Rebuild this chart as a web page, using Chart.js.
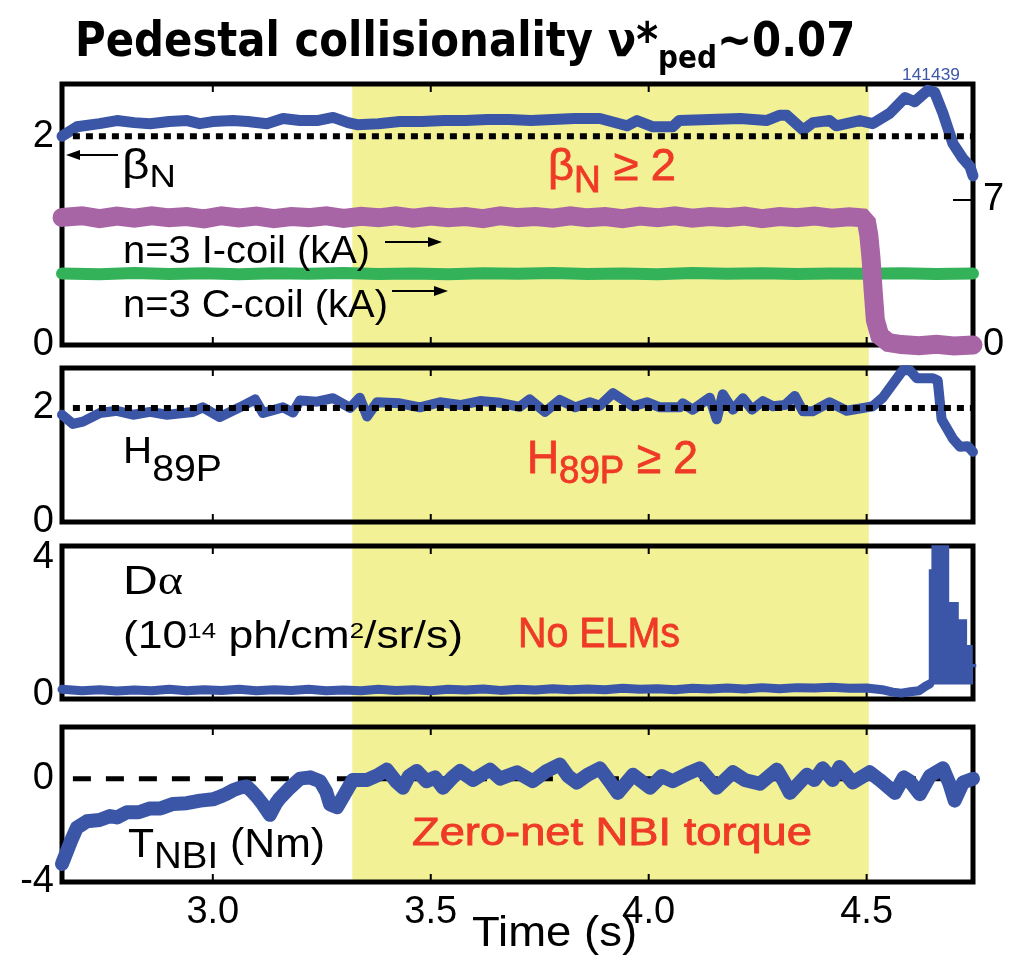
<!DOCTYPE html>
<html>
<head>
<meta charset="utf-8">
<script src="https://cdn.jsdelivr.net/npm/chart.js@4.4.1/dist/chart.umd.min.js"></script>
<style>
  body { margin:0; width:1017px; height:960px; overflow:hidden; background:#fff; position:relative;
         font-family:"Liberation Sans", Arial, sans-serif; }
  .pn { position:absolute; left:0; width:1017px; }
  .lb { position:absolute; white-space:nowrap; line-height:1; color:#000; transform-origin:left center; }
  .red { color:#ee3a26; -webkit-text-stroke:0.8px #ee3a26; }
  .sb { position:relative; }
</style>
</head>
<body>
<div class="pn" style="top:60px;height:300px"><canvas id="c1"></canvas></div>
<div class="pn" style="top:360px;height:176px"><canvas id="c2"></canvas></div>
<div class="pn" style="top:536px;height:177px"><canvas id="c3"></canvas></div>
<div class="pn" style="top:713px;height:247px"><canvas id="c4"></canvas></div>

<svg style="position:absolute;left:0;top:0" width="1017" height="960">
  <line x1="118" y1="155" x2="76" y2="155" stroke="#000" stroke-width="2"/>
  <polygon points="66,155 80,150 80,160" fill="#000"/>
  <line x1="385" y1="242" x2="432" y2="242" stroke="#000" stroke-width="2"/>
  <polygon points="442,242 428,237 428,247" fill="#000"/>
  <line x1="392" y1="291" x2="438" y2="291" stroke="#000" stroke-width="2"/>
  <polygon points="448,291 434,286 434,296" fill="#000"/>
</svg>

<div class="lb" data-w="780" style="left:75px;top:15px;font-size:48px;font-family:'DejaVu Sans';font-weight:bold">Pedestal collisionality &nu;*<span class="sb" style="font-size:32px;top:12px">ped</span>~0.07</div>
<div class="lb" data-w="58" style="left:902px;top:67px;font-size:16px;color:#3d57a8">141439</div>

<div class="lb" data-w="54" style="left:122px;top:144px;font-size:42px">&beta;<span class="sb" style="font-size:32px;top:8px">N</span></div>
<div class="lb red" data-w="128" style="left:548px;top:143px;font-size:44px">&beta;<span class="sb" style="font-size:36px;top:12px">N</span> &ge; 2</div>
<div class="lb" data-w="247" style="left:123px;top:231px;font-size:38px">n=3 I-coil (kA)</div>
<div class="lb" data-w="265" style="left:123px;top:285px;font-size:38px">n=3 C-coil (kA)</div>

<div class="lb" data-w="99" style="left:123px;top:432px;font-size:37px">H<span class="sb" style="font-size:36px;top:18px">89P</span></div>
<div class="lb red" data-w="171" style="left:527px;top:434px;font-size:46px">H<span class="sb" style="font-size:38px;top:10px">89P</span> &ge; 2</div>

<div class="lb" data-w="60" style="left:123px;top:560px;font-size:40px">D<span style="font-family:'Liberation Serif'">&alpha;</span></div>
<div class="lb" data-w="340" style="left:123px;top:616px;font-size:38px">(10<span class="sb" style="font-size:22px;top:-10px">14</span> ph/cm<span class="sb" style="font-size:22px;top:-10px">2</span>/sr/s)</div>
<div class="lb red" data-w="162" style="left:518px;top:612px;font-size:42px">No ELMs</div>

<div class="lb" data-w="197" style="left:128px;top:823px;font-size:40px">T<span class="sb" style="font-size:36px;top:11px">NBI</span> (Nm)</div>
<div class="lb red" data-w="400" style="left:412px;top:813px;font-size:38px">Zero-net NBI torque</div>
<div class="lb" data-w="165" style="left:472px;top:911px;font-size:42px">Time (s)</div>

<script>
// ── data ──────────────────────────────────────────────────────────
const X_MIN = 2.654, X_MAX = 4.744;
const BAND = [3.32, 4.505];
const TIME_TICKS = [3.0, 3.5, 4.0, 4.5];

// beta_N (left axis, panel 1)
const bnT = [2.654, 2.688, 2.74, 2.78, 2.82, 2.856, 2.90, 2.941, 2.97, 3.00, 3.046, 3.08, 3.124, 3.161, 3.20, 3.239, 3.276, 3.31, 3.331, 3.38,
  3.429, 3.48, 3.53, 3.58, 3.63, 3.68, 3.73, 3.78, 3.83, 3.888, 3.95, 3.973, 4.01, 4.055, 4.07, 4.14, 4.21, 4.27, 4.30, 4.317,
  4.354, 4.377, 4.415, 4.43, 4.484, 4.514, 4.553, 4.588, 4.61, 4.64, 4.656, 4.675, 4.698, 4.72, 4.737, 4.744];
const bnV = [2.00, 2.09, 2.12, 2.15, 2.13, 2.12, 2.14, 2.15, 2.12, 2.14, 2.15, 2.14, 2.12, 2.17, 2.15, 2.15, 2.18, 2.13, 2.11, 2.12,
  2.14, 2.14, 2.15, 2.15, 2.16, 2.16, 2.15, 2.16, 2.17, 2.17, 2.10, 2.15, 2.09, 2.09, 2.15, 2.16, 2.17, 2.15, 2.20, 2.20,
  2.06, 2.13, 2.15, 2.10, 2.15, 2.12, 2.22, 2.37, 2.33, 2.44, 2.42, 2.22, 1.93, 1.79, 1.71, 1.62];

// n=3 I-coil (kA, right axis)
const icT = [2.654, 2.70, 2.74, 2.78, 2.82, 2.86, 2.90, 2.94, 2.98, 3.02, 3.06, 3.10, 3.14, 3.18, 3.22, 3.26, 3.30, 3.34, 3.38, 3.42,
  3.46, 3.50, 3.54, 3.58, 3.62, 3.66, 3.70, 3.74, 3.78, 3.82, 3.86, 3.90, 3.94, 3.98, 4.02, 4.06, 4.10, 4.14, 4.18, 4.22,
  4.26, 4.30, 4.34, 4.38, 4.42, 4.46, 4.49, 4.50, 4.505, 4.51, 4.515, 4.52, 4.53, 4.55, 4.58, 4.62, 4.66, 4.70, 4.744];
const icV = [6.16, 6.24, 6.10, 6.22, 6.12, 6.24, 6.14, 6.20, 6.09, 6.24, 6.13, 6.22, 6.10, 6.20, 6.15, 6.24, 6.11, 6.21, 6.14, 6.24,
  6.12, 6.22, 6.14, 6.20, 6.10, 6.24, 6.15, 6.20, 6.12, 6.24, 6.14, 6.20, 6.10, 6.22, 6.14, 6.24, 6.12, 6.20, 6.15, 6.22,
  6.10, 6.20, 6.14, 6.23, 6.12, 6.19, 6.14, 5.90, 5.30, 4.20, 2.60, 1.20, 0.45, 0.12, 0.02, -0.04, 0.03, -0.05, 0.00];

// n=3 C-coil (kA, right axis)
const ccT = [2.654, 2.74, 2.82, 2.90, 2.98, 3.06, 3.14, 3.22, 3.30, 3.38, 3.46, 3.54, 3.62, 3.70, 3.78, 3.86, 3.94, 4.02, 4.10, 4.18,
  4.26, 4.34, 4.42, 4.50, 4.58, 4.66, 4.744];
const ccV = [3.45, 3.42, 3.47, 3.43, 3.46, 3.42, 3.46, 3.44, 3.47, 3.43, 3.45, 3.42, 3.46, 3.44, 3.47, 3.43, 3.45, 3.42, 3.47, 3.44,
  3.46, 3.43, 3.45, 3.44, 3.46, 3.43, 3.45];

// H89P
const hT = [2.654, 2.679, 2.702, 2.741, 2.780, 2.817, 2.856, 2.895, 2.954, 2.977, 3.016, 3.062, 3.097, 3.115, 3.161, 3.184, 3.200, 3.239, 3.276, 3.315,
  3.337, 3.354, 3.377, 3.429, 3.475, 3.521, 3.567, 3.613, 3.659, 3.704, 3.727, 3.762, 3.796, 3.831, 3.865, 3.888, 3.918, 3.964, 3.996, 4.026,
  4.071, 4.078, 4.101, 4.140, 4.156, 4.170, 4.193, 4.216, 4.237, 4.262, 4.285, 4.312, 4.335, 4.354, 4.376, 4.415, 4.454, 4.500, 4.514, 4.537,
  4.583, 4.599, 4.615, 4.652, 4.663, 4.672, 4.698, 4.714, 4.732, 4.744];
const hV = [1.88, 1.72, 1.76, 1.91, 1.95, 1.88, 1.93, 1.88, 1.93, 2.01, 1.84, 2.01, 2.15, 1.91, 2.01, 1.92, 2.13, 2.11, 2.17, 2.00,
  2.18, 1.85, 2.10, 2.08, 2.01, 2.10, 2.05, 2.12, 2.09, 2.02, 2.15, 1.93, 2.14, 2.01, 2.10, 2.04, 2.26, 2.03, 2.10, 2.01,
  2.01, 2.08, 1.97, 2.18, 1.80, 2.24, 1.97, 2.17, 1.97, 2.12, 2.03, 2.05, 2.21, 1.94, 1.94, 2.10, 1.95, 2.01, 2.03, 2.18,
  2.66, 2.66, 2.52, 2.52, 2.48, 1.80, 1.46, 1.32, 1.33, 1.23];

// D-alpha baseline and ELM envelope
const daT = [2.654, 2.70, 2.74, 2.78, 2.82, 2.86, 2.90, 2.94, 2.98, 3.02, 3.06, 3.10, 3.14, 3.18, 3.22, 3.26, 3.30, 3.34, 3.38, 3.42,
  3.46, 3.50, 3.54, 3.58, 3.62, 3.66, 3.70, 3.74, 3.78, 3.82, 3.86, 3.90, 3.94, 3.98, 4.02, 4.06, 4.10, 4.14, 4.18, 4.22,
  4.26, 4.30, 4.34, 4.38, 4.42, 4.46, 4.50, 4.54, 4.56, 4.58, 4.60, 4.62, 4.635, 4.645];
const daV = [0.16, 0.12, 0.15, 0.11, 0.14, 0.12, 0.16, 0.12, 0.15, 0.13, 0.16, 0.12, 0.15, 0.13, 0.16, 0.12, 0.14, 0.12, 0.16, 0.13,
  0.15, 0.12, 0.16, 0.14, 0.17, 0.13, 0.16, 0.14, 0.18, 0.15, 0.17, 0.15, 0.19, 0.16, 0.18, 0.15, 0.19, 0.17, 0.20, 0.17,
  0.21, 0.18, 0.21, 0.20, 0.22, 0.19, 0.20, 0.14, 0.08, 0.05, 0.09, 0.12, 0.25, 0.32];
const elmT = [4.64, 4.646, 4.652, 4.686, 4.708, 4.727, 4.74, 4.748];
const elmV = [0.30, 3.60, 4.30, 2.65, 2.15, 1.40, 0.85, 0.80];

// T_NBI (Nm)
const tqT = [2.654, 2.661, 2.675, 2.688, 2.711, 2.74, 2.764, 2.78, 2.803, 2.83, 2.856, 2.88, 2.909, 2.94, 2.971, 3.00, 3.016, 3.03, 3.046, 3.062,
  3.078, 3.09, 3.101, 3.115, 3.131, 3.145, 3.154, 3.177, 3.20, 3.223, 3.246, 3.26, 3.269, 3.285, 3.299, 3.321, 3.354, 3.38, 3.399, 3.42,
  3.436, 3.45, 3.468, 3.49, 3.51, 3.528, 3.55, 3.567, 3.597, 3.636, 3.659, 3.698, 3.734, 3.766, 3.796, 3.815, 3.835, 3.86, 3.888, 3.91,
  3.929, 3.964, 4.003, 4.03, 4.055, 4.09, 4.117, 4.14, 4.156, 4.193, 4.22, 4.255, 4.294, 4.31, 4.324, 4.363, 4.38, 4.399, 4.422, 4.438,
  4.468, 4.507, 4.53, 4.565, 4.585, 4.599, 4.622, 4.645, 4.675, 4.69, 4.702, 4.721, 4.744];
const tqV = [-3.3, -3.0, -2.4, -1.9, -1.65, -1.6, -1.45, -1.5, -1.3, -1.3, -1.15, -1.15, -0.98, -0.95, -0.85, -0.8, -0.7, -0.6, -0.45, -0.35,
  -0.3, -0.5, -0.7, -1.0, -1.4, -0.95, -0.75, -0.35, 0.0, 0.05, -0.1, -0.5, -1.0, -1.1, -0.7, -0.05, -0.05, 0.15, 0.35, -0.1,
  -0.35, 0.1, 0.3, -0.1, 0.05, -0.35, 0.05, 0.3, -0.05, 0.35, 0.0, 0.25, -0.1, 0.3, 0.55, 0.1, -0.15, 0.15, 0.4, -0.1,
  -0.55, 0.15, -0.35, 0.1, -0.1, 0.2, 0.4, -0.05, -0.35, 0.25, -0.05, -0.2, 0.35, -0.1, -0.55, 0.15, -0.05, 0.4, -0.05, 0.45,
  -0.15, 0.25, -0.05, -0.55, 0.05, -0.1, -0.6, 0.1, 0.4, -0.2, -0.85, -0.15, 0.0];

// ── helpers ───────────────────────────────────────────────────────
const BLUE = "#3b56a6", PURPLE = "#a865a6", GREEN = "#33b25a", YELLOW = "#f3f196";
const FONT = "'Liberation Sans', Arial, sans-serif";

function pts(ts, vs) { return ts.slice(0, Math.min(ts.length, vs.length)).map((t, i) => ({ x: t, y: vs[i] })); }
function line(data, color, width, extra) {
  return Object.assign({ data, borderColor: color, backgroundColor: color, borderWidth: width, pointRadius: 0,
    fill: false, tension: 0, clip: 14, borderJoinStyle: "round", borderCapStyle: "round" }, extra || {});
}
function refLine(v, dash, width, axis) {
  return line([{ x: X_MIN + 0.025, y: v }, { x: X_MAX, y: v }], "#000", width,
    { borderDash: dash, borderCapStyle: "butt", yAxisID: axis || "y", clip: 0 });
}

function bandPlugin(first, last) {
  return {
    id: "band",
    beforeDraw(chart) {
      const { ctx, chartArea: a, scales: { x } } = chart;
      const x1 = x.getPixelForValue(BAND[0]), x2 = x.getPixelForValue(BAND[1]);
      const y1 = first ? a.top : 0, y2 = last ? a.bottom : chart.height;
      ctx.save(); ctx.fillStyle = YELLOW; ctx.fillRect(x1, y1, x2 - x1, y2 - y1); ctx.restore();
    }
  };
}
const framePlugin = {
  id: "frame",
  beforeDatasetsDraw(chart) {
    const { ctx, chartArea: a, scales } = chart;
    ctx.save();
    ctx.strokeStyle = "#000"; ctx.lineWidth = 2;
    TIME_TICKS.forEach(t => {
      const px = scales.x.getPixelForValue(t);
      ctx.beginPath();
      ctx.moveTo(px, a.top); ctx.lineTo(px, a.top + 8);
      ctx.moveTo(px, a.bottom); ctx.lineTo(px, a.bottom - 8);
      ctx.stroke();
    });
    if (scales.y2) {
      const py = scales.y2.getPixelForValue(7);
      ctx.beginPath(); ctx.moveTo(a.right - 20, py); ctx.lineTo(a.right, py); ctx.stroke();
    }
    ctx.lineWidth = 5;
    ctx.strokeRect(a.left, a.top, a.right - a.left, a.bottom - a.top);
    ctx.restore();
  }
};

function yAxis(min, max, ticks, pos, width, pad) {
  return {
    type: "linear", position: pos || "left", min, max,
    grid: { display: false, drawTicks: false }, border: { display: false },
    afterBuildTicks: s => { s.ticks = ticks.map(v => ({ value: v })); },
    afterFit: s => { s.width = width || 62; s.paddingTop = 0; s.paddingBottom = 0; },
    ticks: { font: { family: FONT, size: 38 }, color: "#000", padding: pad || 8, autoSkip: false, callback: v => String(v) }
  };
}
function xAxis(show) {
  return {
    type: "linear", min: X_MIN, max: X_MAX, display: show,
    grid: { display: false, drawTicks: false }, border: { display: false },
    afterBuildTicks: s => { s.ticks = TIME_TICKS.map(v => ({ value: v })); },
    afterFit: s => { s.height = show ? 78 : 0; s.paddingLeft = 0; s.paddingRight = 0; },
    ticks: { font: { family: FONT, size: 38 }, color: "#000", padding: 8, autoSkip: false, maxRotation: 0,
      callback: v => Number(v).toFixed(1) }
  };
}
function makePanel(id, pad, scales, datasets, first, last) {
  return new Chart(document.getElementById(id), {
    type: "line",
    data: { datasets },
    options: {
      animation: false, responsive: true, maintainAspectRatio: false, events: [],
      layout: { padding: pad },
      plugins: { legend: { display: false }, tooltip: { enabled: false } },
      scales
    },
    plugins: [bandPlugin(first, last), framePlugin]
  });
}

// ── panel 1: beta_N + coils ───────────────────────────────────────
makePanel("c1", { top: 24, bottom: 15, left: 0, right: 0 },
  { x: xAxis(false), y: yAxis(0, 2.5, [0, 2]), y2: yAxis(0, 12.6, [0, 7], "right", 44, 10) },
  [
    line(pts(icT, icV), PURPLE, 19, { yAxisID: "y2", borderJoinStyle: "miter" }),
    line(pts(ccT, ccV), GREEN, 12, { yAxisID: "y2" }),
    refLine(2, [7, 6], 6),
    line(pts(bnT, bnV), BLUE, 11)
  ], true, false);

// ── panel 2: H89P ─────────────────────────────────────────────────
makePanel("c2", { top: 8, bottom: 14, left: 0, right: 44 },
  { x: xAxis(false), y: yAxis(0, 2.7, [0, 2]) },
  [
    refLine(2, [7, 6], 6),
    line(pts(hT, hV), BLUE, 10)
  ], false, false);

// ── panel 3: D-alpha ──────────────────────────────────────────────
makePanel("c3", { top: 10, bottom: 14, left: 0, right: 44 },
  { x: xAxis(false), y: yAxis(-0.12, 4.32, [0, 4]) },
  [
    line(pts(daT, daV), BLUE, 9),
    line(pts(elmT, elmV), BLUE, 3, { stepped: "before", fill: { value: 0.3 }, borderJoinStyle: "miter", borderCapStyle: "butt" })
  ], false, false);

// ── panel 4: T_NBI ────────────────────────────────────────────────
makePanel("c4", { top: 14, bottom: 0, left: 0, right: 44 },
  { x: xAxis(true), y: yAxis(-4, 2, [-4, 0]) },
  [
    line(pts(tqT, tqV), BLUE, 14),
    refLine(0, [18, 15], 5)
  ], false, true);

// ── fit overlay labels to their measured widths ────────────────────
document.querySelectorAll(".lb[data-w]").forEach(el => {
  const w = el.getBoundingClientRect().width;
  el.style.transform = "scaleX(" + (Number(el.dataset.w) / w).toFixed(3) + ")";
});
</script>
</body>
</html>
